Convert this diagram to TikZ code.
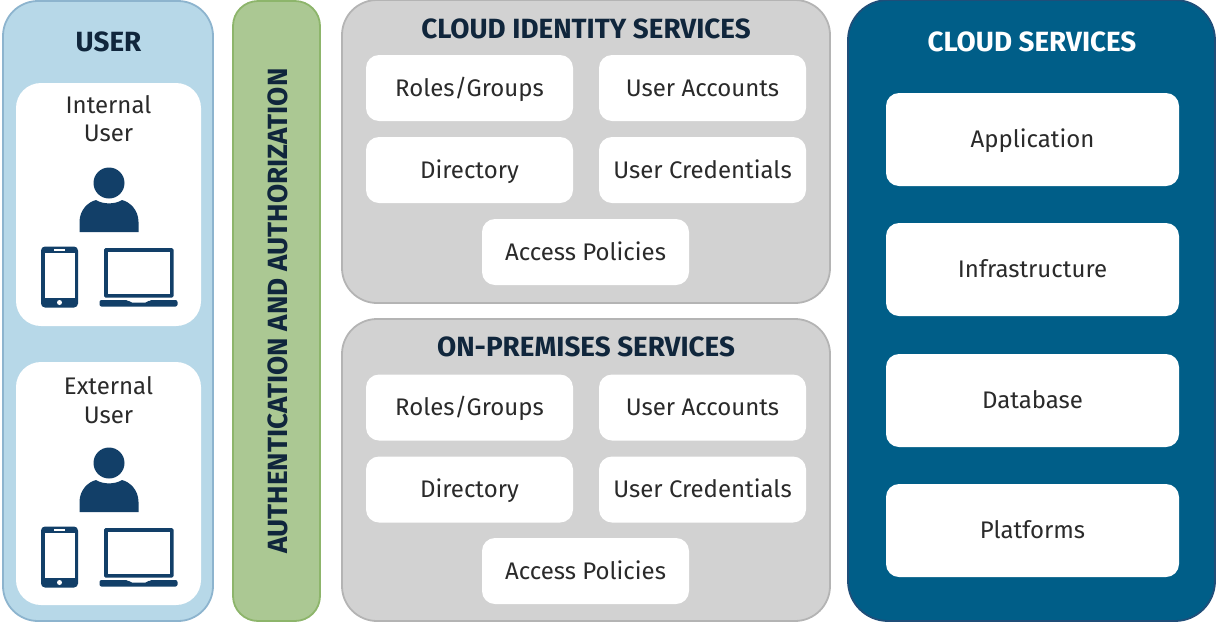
\documentclass[tikz,border=0pt]{standalone}
\usepackage{fontspec}
\setmainfont{Fira Sans}
\definecolor{userfill}{HTML}{B7D8E8}
\definecolor{userline}{HTML}{8DB4CE}
\definecolor{authfill}{HTML}{ABC893}
\definecolor{authline}{HTML}{8DB56B}
\definecolor{greyfill}{HTML}{D2D2D2}
\definecolor{greyline}{HTML}{B4B4B4}
\definecolor{cloudfill}{HTML}{005E88}
\definecolor{cloudline}{HTML}{1F4E79}
\definecolor{icon}{HTML}{123F68}
\definecolor{ink}{HTML}{2A2A2A}
\definecolor{headink}{HTML}{10263C}
\tikzset{
  x=1pt,y=-1pt,
  box/.style 2 args={rectangle,minimum width=#1,minimum height=#2,inner sep=0pt,outer sep=0pt,anchor=center},
  panel/.style={draw,line width=1.8pt,rounded corners=35pt},
  whitebox/.style={fill=white,rounded corners=13pt,text=ink,font=\fontsize{24}{28}\selectfont,align=center,text height=16.5pt,text depth=0pt},
  headtext/.style={font=\fontsize{27.8}{30}\bfseries\selectfont,text=headink,inner sep=0pt,text height=19pt,text depth=0pt},
  bodytext/.style={font=\fontsize{24}{28.5}\selectfont,text=ink,inner sep=0pt,align=center},
  usericon/.pic={
    \fill[icon] (109,183) circle[radius=15.5];
    \fill[icon] (79.5,232) -- (79.5,222) .. controls (79.5,210) and (88,202) .. (96,200)
      .. controls (103,204.5) and (115,204.5) .. (122,200)
      .. controls (130,202) and (138.5,210) .. (138.5,222) -- (138.5,232) -- cycle;
    \fill[icon,rounded corners=4pt] (41,246.5) rectangle (78,307.5);
    \fill[white] (44.5,253) rectangle (74.5,297.5);
    \fill[white] (53.5,249.2) rectangle (65,250.8);
    \fill[white] (59.5,302.5) circle[radius=2.5];
    \fill[icon,rounded corners=1.5pt] (104,248) rectangle (173.5,297.5);
    \fill[white] (107.5,252) rectangle (170,293.5);
    \fill[icon,rounded corners=2pt] (99.5,300) -- (128,300) -- (130,302.5) -- (147.5,302.5) -- (149.5,300) -- (177.5,300) -- (177.5,306.5) -- (99.5,306.5) -- cycle;
  }
}
\begin{document}
\begin{tikzpicture}
\useasboundingbox (0,0) rectangle (1216,622);
% panels
\node[panel,box={210pt}{620pt},fill=userfill,draw=userline] (user) at (108,311) {};
\node[panel,box={87pt}{620pt},fill=authfill,draw=authline,rounded corners=25pt] (auth) at (276.5,311) {};
\node[panel,box={488pt}{303pt},fill=greyfill,draw=greyline] (identity) at (586,151.5) {};
\node[panel,box={488pt}{302pt},fill=greyfill,draw=greyline] (onprem) at (586,470) {};
\node[panel,box={367pt}{621pt},fill=cloudfill,draw=cloudline,rounded corners=40pt] (cloud) at (1031.5,310.5) {};
% headings
\node[headtext] (userh) at (108.5,42) {USER};
\node[headtext,rotate=90] (authh) at (277.5,311) {AUTHENTICATION AND AUTHORIZATION};
\node[headtext] (idh) at (586,29) {CLOUD IDENTITY SERVICES};
\node[headtext] (oph) at (586,347) {ON-PREMISES SERVICES};
\node[headtext,text=white] (clh) at (1032,42) {CLOUD SERVICES};
% user cards
\node[whitebox,box={185pt}{243pt},rounded corners=25pt] (internal) at (108.5,204.5) {};
\node[whitebox,box={185pt}{243pt},rounded corners=25pt] (external) at (108.5,483.5) {};
\node[bodytext] (internalt) at (108.5,118.5) {Internal\\User};
\node[bodytext] (externalt) at (108.5,400) {External\\User};
\pic at (0,0) {usericon};
\pic at (0,280) {usericon};
% identity
\node[whitebox,box={207pt}{66pt}] (a1) at (469.5,88) {Roles/Groups};
\node[whitebox,box={207pt}{66pt}] (a2) at (702.5,88) {User Accounts};
\node[whitebox,box={207pt}{66pt}] (a3) at (469.5,170) {Directory};
\node[whitebox,box={207pt}{66pt}] (a4) at (702.5,170) {User Credentials};
\node[whitebox,box={207pt}{66pt}] (a5) at (585.5,252) {Access Policies};
% on-premises
\node[whitebox,box={207pt}{66pt}] (b1) at (469.5,407.5) {Roles/Groups};
\node[whitebox,box={207pt}{66pt}] (b2) at (702.5,407.5) {User Accounts};
\node[whitebox,box={207pt}{66pt}] (b3) at (469.5,489.5) {Directory};
\node[whitebox,box={207pt}{66pt}] (b4) at (702.5,489.5) {User Credentials};
\node[whitebox,box={207pt}{66pt}] (b5) at (585.5,571) {Access Policies};
% cloud
\node[whitebox,box={293pt}{93pt}] (c1) at (1032.5,139.5) {Application};
\node[whitebox,box={293pt}{93pt}] (c2) at (1032.5,269.5) {Infrastructure};
\node[whitebox,box={293pt}{93pt}] (c3) at (1032.5,400.5) {Database};
\node[whitebox,box={293pt}{93pt}] (c4) at (1032.5,530.5) {Platforms};
\end{tikzpicture}
\end{document}
